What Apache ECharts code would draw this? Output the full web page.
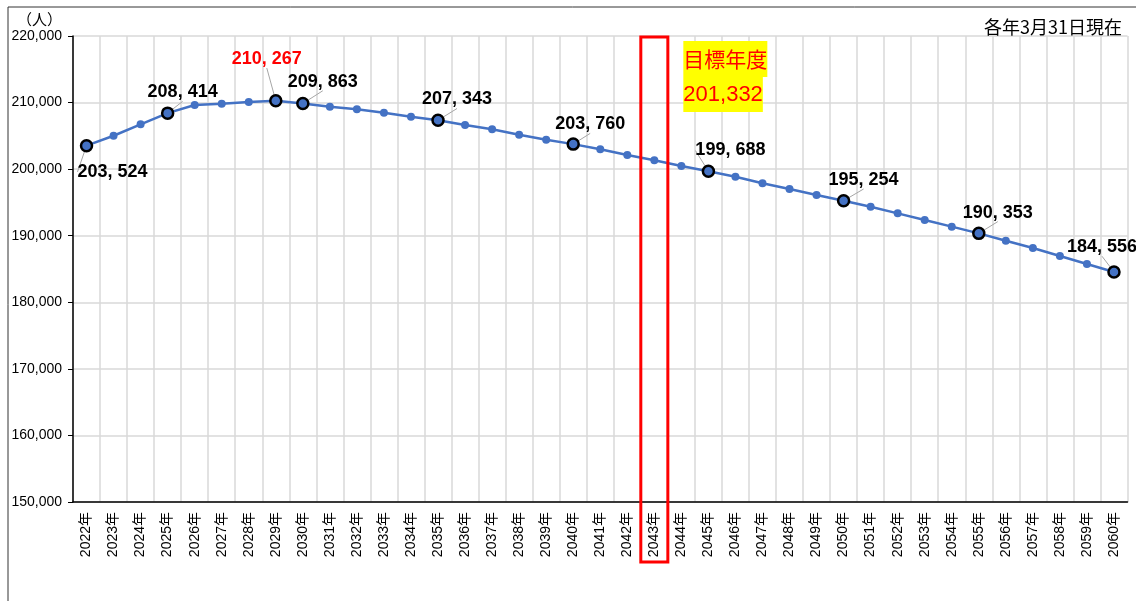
<!DOCTYPE html>
<html>
<head>
<meta charset="utf-8">
<script src="https://cdn.jsdelivr.net/npm/echarts@6/dist/echarts.min.js"></script>
<style>
  html, body { margin: 0; padding: 0; background: #fff; }
  #main { width: 1136px; height: 601px; }
</style>
</head>
<body>
<div id="main"></div>
<script>
const years = [];
for (let y = 2022; y <= 2060; y++) years.push(y + "年");

const population = [
  203524, 205020, 206730, 208414, 209640, 209830, 210090, 210267, 209863, 209380,
  208990, 208480, 207880, 207343, 206630, 205980, 205180, 204430, 203760, 202980,
  202120, 201332, 200470, 199688, 198870, 197870, 197020, 196120, 195254, 194360,
  193360, 192360, 191360, 190353, 189250, 188150, 186950, 185750, 184556
];

// years that carry a value label (highlighted points)
const labelledYears = ["2022年", "2025年", "2029年", "2030年", "2035年", "2040年",
  "2045年", "2050年", "2055年", "2060年"];
const peakYear = "2029年";
const targetYear = "2043年";
const targetText = ["目標年度", "201,332"];

const yTicks = { min: 150000, max: 220000, interval: 10000 };

const BLUE = "#4472C4";

// label nudges (dx, dy) from the default "top" position
const labelOffsets = {
  "2022年": [26, 47], "2025年": [15, 0], "2029年": [-9, -21], "2030年": [20, -1],
  "2035年": [19, 0], "2040年": [17, 1], "2045年": [22, 0], "2050年": [20, 0],
  "2055年": [19, 0], "2060年": [-12, -4]
};

const fmtComma = (v) => {
  const s = String(v);
  return s.slice(0, s.length - 3) + ", " + s.slice(-3);
};

const seriesData = population.map((v, i) => {
  const yr = years[i];
  if (labelledYears.indexOf(yr) < 0) return v;
  return {
    value: v,
    symbolSize: 11,
    itemStyle: { color: BLUE, borderColor: "#000", borderWidth: 2.5 },
    label: {
      show: true,
      position: "top",
      formatter: () => fmtComma(v),
      color: yr === peakYear ? "#FF0000" : "#000",
      fontSize: 18,
      fontWeight: "bold",
      fontFamily: "'Liberation Sans', Arial, sans-serif"
    },
    labelLine: { show: true, lineStyle: { color: "#a6a6a6", width: 1 } }
  };
});

const chart = echarts.init(document.getElementById("main"));

chart.setOption({
  animation: false,
  grid: { left: 73, right: 8.5, top: 36, bottom: 99 },
  xAxis: {
    type: "category",
    data: years,
    boundaryGap: true,
    axisLine: { lineStyle: { color: "#000", width: 1.5 } },
    axisTick: { show: false },
    axisLabel: {
      interval: 0,
      rotate: 90,
      margin: 10,
      fontSize: 14,
      color: "#000",
      fontFamily: "'Liberation Sans', 'Noto Sans CJK JP', sans-serif"
    },
    splitLine: { show: true, interval: 0, lineStyle: { color: "#d9d9d9", width: 1.5 } }
  },
  yAxis: {
    type: "value",
    min: yTicks.min,
    max: yTicks.max,
    interval: yTicks.interval,
    axisLine: { show: true, lineStyle: { color: "#000", width: 1.5 } },
    axisTick: { show: true, length: 5, lineStyle: { color: "#000" } },
    axisLabel: {
      fontSize: 14,
      color: "#000",
      margin: 11,
      fontFamily: "'Liberation Sans', sans-serif",
      formatter: (v) => v.toLocaleString("en-US")
    },
    splitLine: { show: true, lineStyle: { color: "#d9d9d9", width: 1.5 } }
  },
  series: [
    {
      type: "line",
      data: seriesData,
      symbol: "circle",
      symbolSize: 8,
      itemStyle: { color: BLUE },
      lineStyle: { color: BLUE, width: 2.5 },
      labelLayout: (params) => {
        const off = labelOffsets[years[params.dataIndex]];
        return off ? { dx: off[0], dy: off[1] } : {};
      }
    }
  ]
});

// annotations placed from the axis scales
const tIdx = years.indexOf(targetYear);
const cx = chart.convertToPixel({ xAxisIndex: 0 }, tIdx);
const catW = chart.convertToPixel({ xAxisIndex: 0 }, 1) - chart.convertToPixel({ xAxisIndex: 0 }, 0);
const yTop = chart.convertToPixel({ yAxisIndex: 0 }, yTicks.max);
const yBottom = chart.convertToPixel({ yAxisIndex: 0 }, yTicks.min);

chart.setOption({
  graphic: [
    {
      type: "rect",
      silent: true,
      shape: { x: 8, y: 7, width: 1200, height: 700 },
      style: { fill: "none", stroke: "#333", lineWidth: 1 }
    },
    {
      type: "rect",
      z: 10,
      shape: { x: cx - catW / 2, y: yTop + 1, width: catW, height: yBottom - yTop + 59 },
      style: { fill: "none", stroke: "#FF0000", lineWidth: 3 }
    },
    {
      type: "text",
      z: 10,
      style: {
        x: cx + 29, y: yTop + 5,
        text: targetText[0],
        fill: "#FF0000",
        font: "21px 'Noto Sans CJK JP', sans-serif",
        lineHeight: 36,
        backgroundColor: "#FFFF00"
      }
    },
    {
      type: "text",
      z: 10,
      style: {
        x: cx + 29, y: yTop + 41,
        text: targetText[1],
        fill: "#FF0000",
        font: "22px 'Liberation Sans', sans-serif",
        lineHeight: 35,
        backgroundColor: "#FFFF00"
      }
    },
    {
      type: "text",
      style: {
        x: 1122, y: 18,
        text: "各年3月31日現在",
        textAlign: "right",
        fill: "#000",
        font: "18px 'Noto Sans CJK JP', sans-serif"
      }
    },
    {
      type: "text",
      style: {
        x: 17, y: 12,
        text: "（人）",
        fill: "#000",
        font: "15px 'Noto Sans CJK JP', sans-serif"
      }
    }
  ]
});
</script>
</body>
</html>
